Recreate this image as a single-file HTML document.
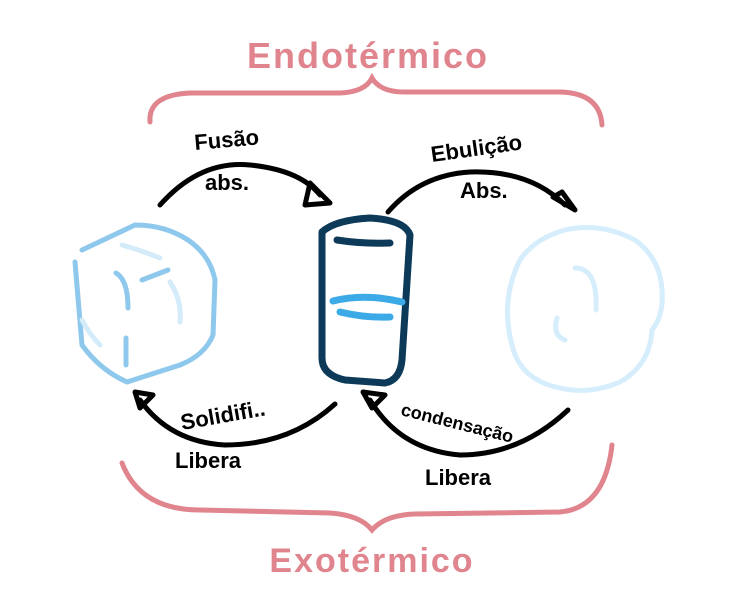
<!DOCTYPE html>
<html><head><meta charset="utf-8"><style>
html,body{margin:0;padding:0;background:#fff;}
svg{display:block}
text{font-family:"Liberation Sans",sans-serif;font-weight:bold}
</style></head><body>
<svg width="736" height="613" viewBox="0 0 736 613" xmlns="http://www.w3.org/2000/svg">
<rect width="736" height="613" fill="#fff"/>
<text x="368" y="68" text-anchor="middle" font-size="36" fill="#e0848e" font-weight="normal" letter-spacing="2">Endotérmico</text>
<text x="372" y="572" text-anchor="middle" font-size="34" fill="#e0848e" font-weight="normal" letter-spacing="2">Exotérmico</text>
<path d="M150 122 Q148 95 190 93 L340 93 Q365 92 372 78 Q380 92 405 92 L560 92 Q600 93 602 125" fill="none" stroke="#e0848e" stroke-width="5" stroke-linecap="round"/>
<path d="M122 463 Q140 510 200 510 L330 513 Q360 515 372 530 Q385 515 415 514 L560 512 Q605 508 612 445" fill="none" stroke="#e0848e" stroke-width="5" stroke-linecap="round"/>
<g fill="none" stroke="#000" stroke-width="5" stroke-linecap="round" stroke-linejoin="round">
<path d="M160 205 Q200 160 250 165 Q300 170 320 195"/>
<path d="M310 183 L330 203 L305 205 Z"/>
<path d="M388 212 Q420 175 470 172 Q530 170 565 205"/>
<path d="M553 197 L575 210 L562 192 Z"/>
<path d="M335 404 Q290 445 225 445 Q170 442 140 400"/>
<path d="M135 392 L140 408 L153 395 Z"/>
<path d="M568 410 Q520 455 460 455 Q400 450 370 400"/>
<path d="M363 392 L372 408 L385 395 Z"/>
</g>
<g fill="#000" font-size="22">
<text x="195" y="150" transform="rotate(-5 195 150)">Fusão</text>
<text x="205" y="190">abs.</text>
<text x="432" y="162" transform="rotate(-8 432 162)">Ebulição</text>
<text x="460" y="198">Abs.</text>
<text x="182" y="430" transform="rotate(-10 182 430)">Solidifi..</text>
<text x="175" y="468">Libera</text>
<text x="400" y="415" transform="rotate(14 400 415)" font-size="18">condensação</text>
<text x="425" y="485">Libera</text>
</g>
<!-- ice cube -->
<g fill="none" stroke="#8ec8ec" stroke-width="5" stroke-linecap="round" stroke-linejoin="round">
<path d="M82 250 L135 225 Q165 225 188 240 Q210 255 215 280 L213 335 Q205 355 180 365 L127 382 Q100 370 82 345 L75 262"/>
<path d="M116 273 Q128 280 128 308"/>
<path d="M142 280 L168 270"/>
<path d="M126 338 L126 365"/>
</g>
<g fill="none" stroke="#d4ebfa" stroke-width="5" stroke-linecap="round">
<path d="M122 245 Q140 250 160 258"/>
<path d="M170 282 Q182 300 180 322"/>
<path d="M82 320 Q90 335 100 345"/>
</g>
<!-- glass -->
<g fill="none" stroke="#0c3a58" stroke-width="7" stroke-linecap="round" stroke-linejoin="round">
<path d="M322 232 Q335 220 370 218 Q405 220 410 235 L402 360 Q400 380 385 383 L345 380 Q322 375 322 358 Z"/>
<path d="M337 240 Q362 244 390 243"/>
</g>
<g fill="none" stroke="#3baae6" stroke-width="7" stroke-linecap="round">
<path d="M333 301 Q365 293 402 302"/>
<path d="M340 312 Q365 318 390 317"/>
</g>
<!-- cloud -->
<g fill="none" stroke="#d6edfc" stroke-width="5" stroke-linecap="round">
<path d="M520 260 Q535 238 565 230 Q600 222 635 240 Q660 258 662 290 Q664 315 652 330 Q650 365 620 382 Q590 395 560 388 Q520 380 512 345 Q500 300 520 260"/>
<path d="M575 268 Q598 268 596 310"/>
<path d="M557 318 Q552 335 565 340"/>
</g>
</svg>
</body></html>
